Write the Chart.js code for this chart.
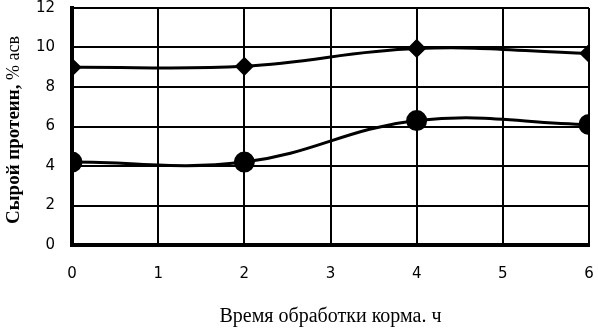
<!DOCTYPE html>
<html>
<head>
<meta charset="utf-8">
<script src="https://cdn.jsdelivr.net/npm/chart.js@4"></script>
<style>
  html, body { margin: 0; padding: 0; background: #fff; }
  #wrap { width: 598px; height: 328px; }
</style>
</head>
<body>
<div id="wrap"><canvas id="proteinChart" width="598" height="328"></canvas></div>
<script>
// data
const hours = [0, 2, 4, 6];
const seriesDiamond = [9.0, 9.05, 9.95, 9.7];
const seriesCircle = [4.2, 4.2, 6.3, 6.1];
const yTicks = [0, 2, 4, 6, 8, 10, 12];
const xTitle = 'Время обработки корма. ч';
const yTitleMain = 'Сырой протеин,';
const yTitleUnit = ' % асв';

// axis titles drawn by hand so the two-font y title fits
const titlesPlugin = {
  id: 'titles',
  afterDraw(chart) {
    const ctx = chart.ctx;
    const area = chart.chartArea;
    ctx.save();
    ctx.fillStyle = '#000';
    ctx.textBaseline = 'middle';
    ctx.textAlign = 'center';
    ctx.font = '20px "Liberation Serif"';
    ctx.fillText(xTitle, (area.left + area.right) / 2, 317);

    ctx.translate(14, 130);
    ctx.rotate(-Math.PI / 2);
    ctx.font = 'bold 19px "Liberation Serif"';
    const w1 = ctx.measureText(yTitleMain).width;
    ctx.font = '18px "Liberation Serif"';
    const w2 = ctx.measureText(yTitleUnit).width;
    const start = -(w1 + w2) / 2;
    ctx.textAlign = 'left';
    ctx.font = 'bold 19px "Liberation Serif"';
    ctx.fillText(yTitleMain, start, 0);
    ctx.font = '18px "Liberation Serif"';
    ctx.fillText(yTitleUnit, start + w1, 0);
    ctx.restore();
  }
};

const ctx = document.getElementById('proteinChart').getContext('2d');
new Chart(ctx, {
  type: 'line',
  data: {
    datasets: [
      {
        label: 'diamond',
        data: hours.map((h, i) => ({ x: h, y: seriesDiamond[i] })),
        borderColor: '#000',
        backgroundColor: '#000',
        borderWidth: 3,
        pointStyle: 'rectRot',
        pointRadius: 7.5,
        tension: 0.4
      },
      {
        label: 'circle',
        data: hours.map((h, i) => ({ x: h, y: seriesCircle[i] })),
        borderColor: '#000',
        backgroundColor: '#000',
        borderWidth: 3,
        pointStyle: 'circle',
        pointRadius: 9,
        tension: 0.4
      }
    ]
  },
  options: {
    responsive: false,
    animation: false,
    layout: { autoPadding: false, padding: { top: 8, right: 9, left: 0, bottom: 0 } },
    plugins: { legend: { display: false }, tooltip: { enabled: false } },
    scales: {
      x: {
        type: 'linear',
        min: 0,
        max: 6,
        afterFit(scale) {
          scale.height = 83;
          scale.paddingLeft = 0;
          scale.paddingRight = 0;
        },
        ticks: {
          stepSize: 1,
          color: '#000',
          padding: 20,
          font: { family: 'DejaVu Sans', size: 15 }
        },
        grid: { color: '#000', lineWidth: 2, drawTicks: false },
        border: { color: '#000', width: 4 }
      },
      y: {
        min: 0,
        max: 12,
        afterFit(scale) {
          scale.width = 72;
          scale.paddingTop = 0;
          scale.paddingBottom = 0;
        },
        afterBuildTicks(scale) { scale.ticks = yTicks.map(v => ({ value: v })); },
        ticks: {
          color: '#000',
          padding: 17,
          font: { family: 'DejaVu Sans', size: 15 }
        },
        grid: { color: '#000', lineWidth: 2, drawTicks: false },
        border: { color: '#000', width: 4 }
      }
    }
  },
  plugins: [titlesPlugin]
});
</script>
</body>
</html>
